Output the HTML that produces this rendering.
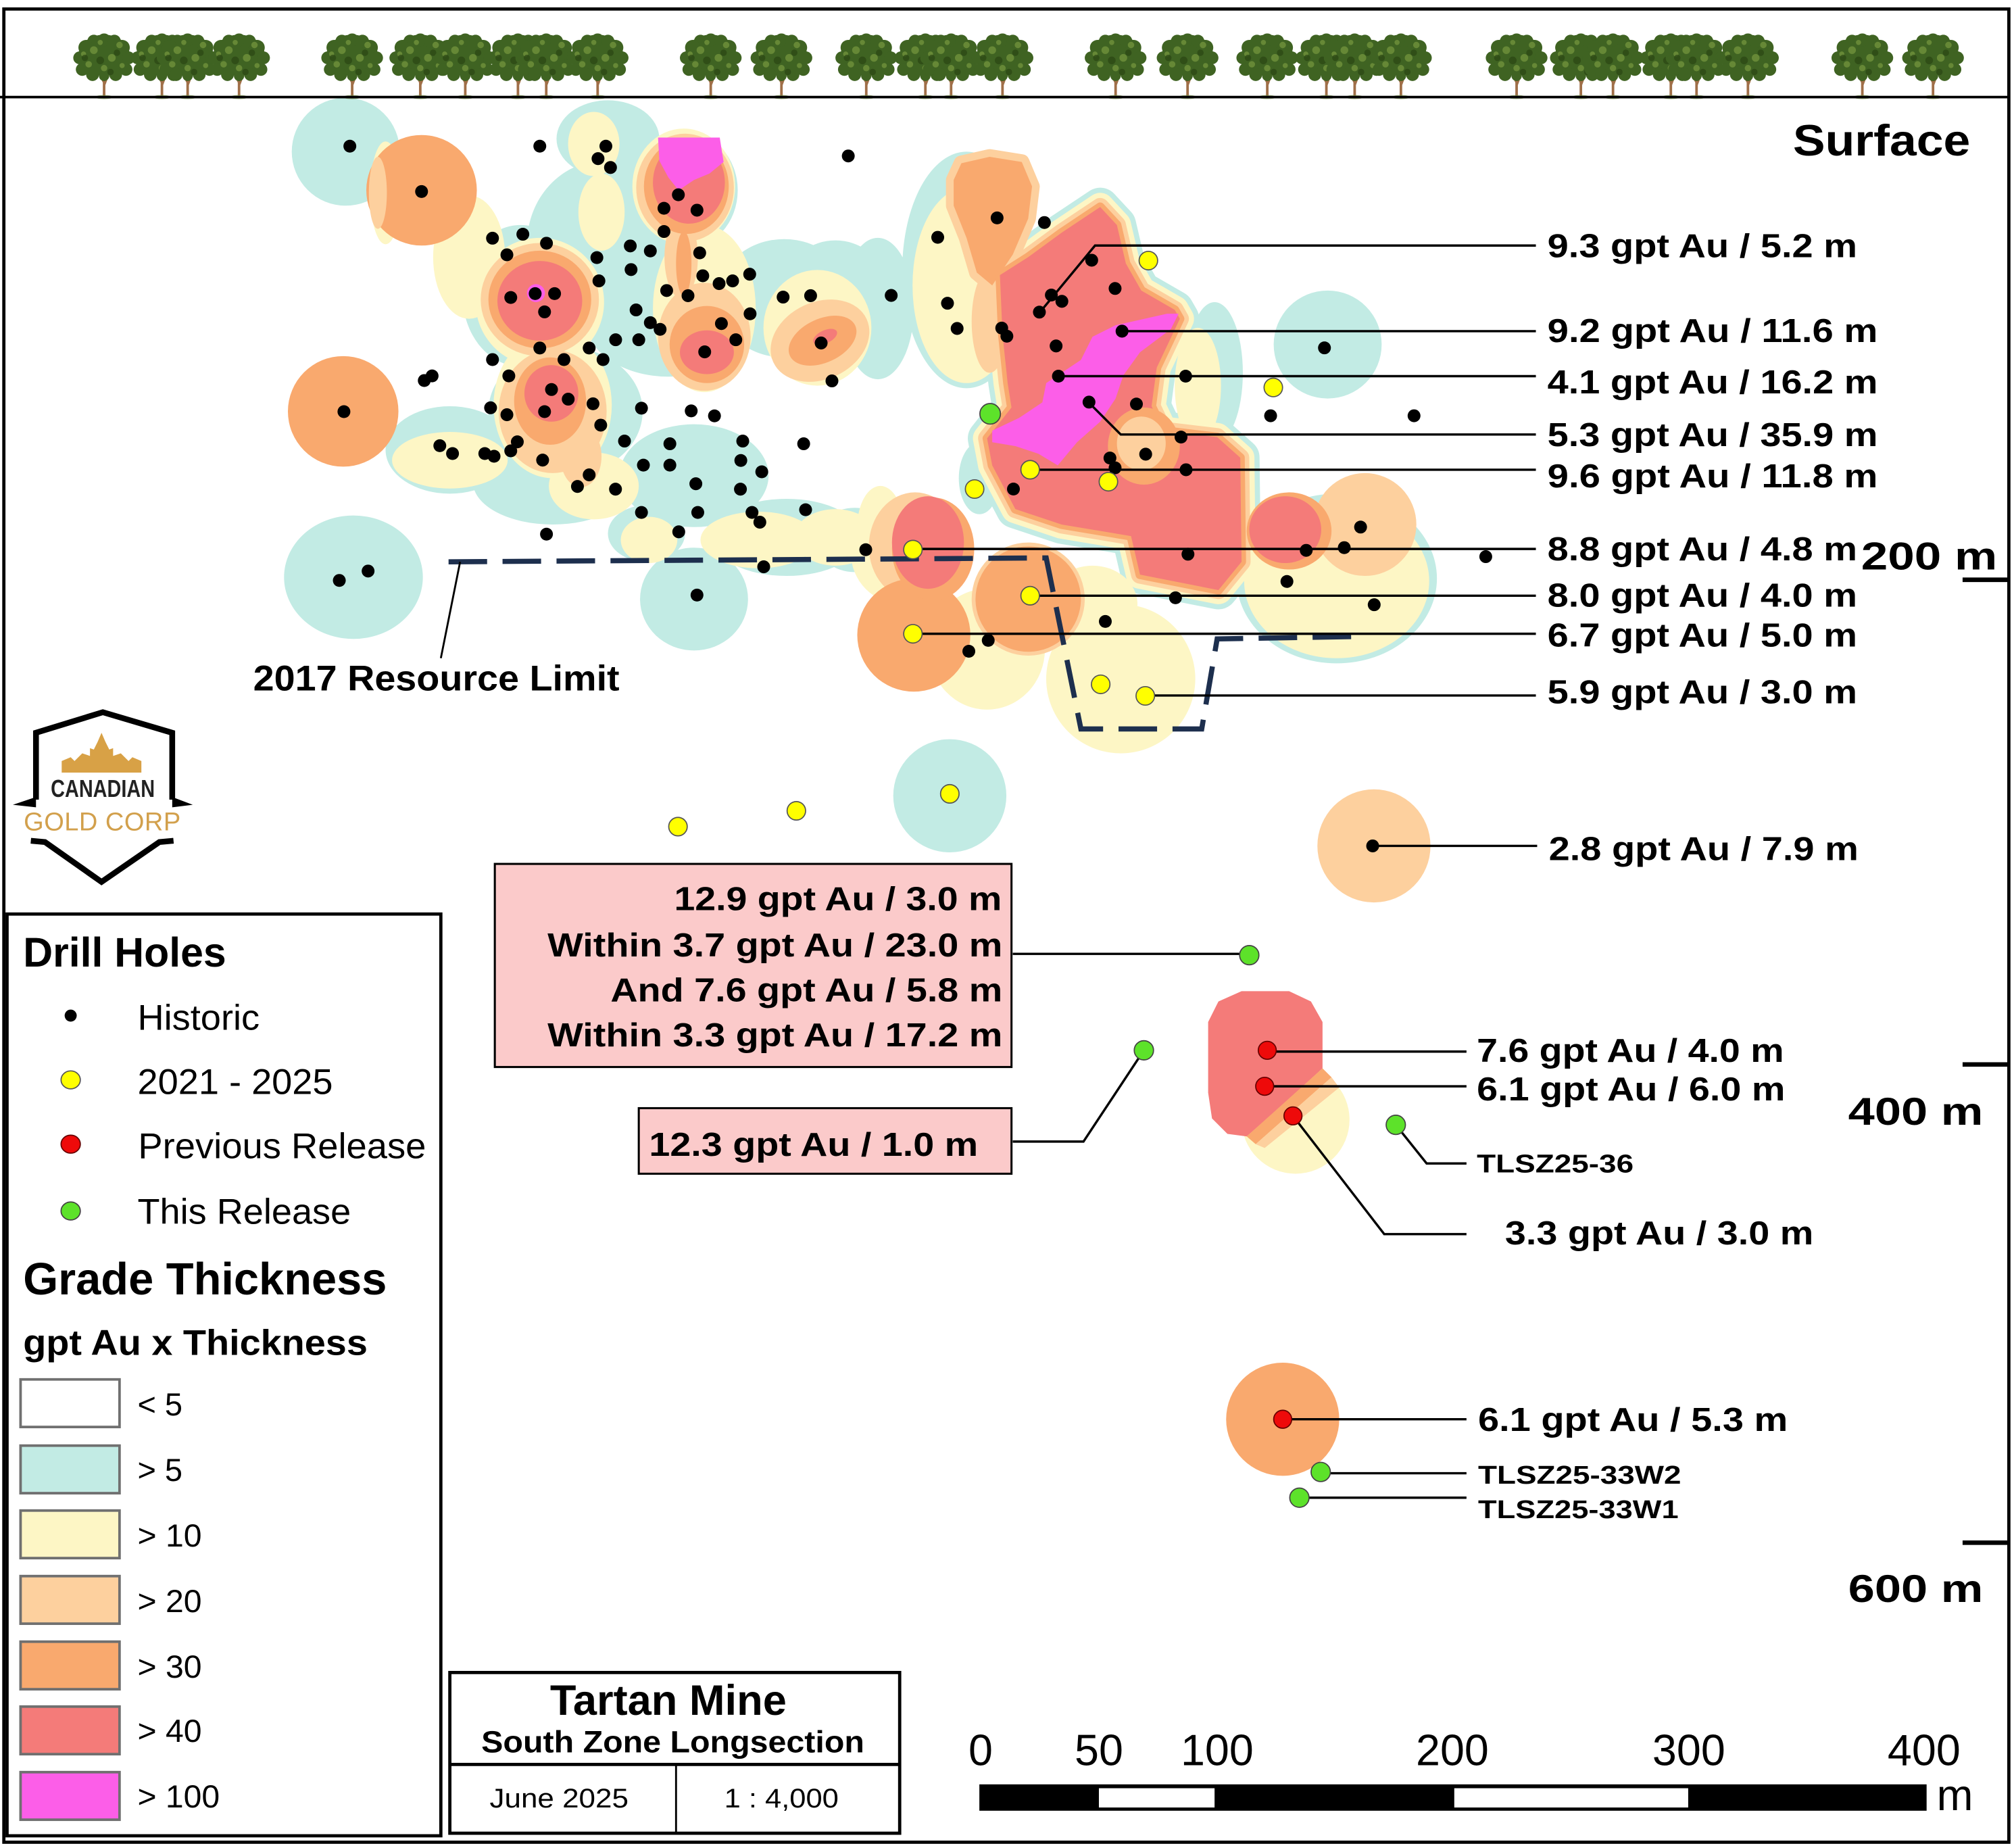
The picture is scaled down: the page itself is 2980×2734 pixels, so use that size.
<!DOCTYPE html>
<html><head><meta charset="utf-8"><style>html,body{margin:0;padding:0;background:#fff}svg{display:block}</style></head>
<body>
<svg xmlns="http://www.w3.org/2000/svg" xmlns:xlink="http://www.w3.org/1999/xlink" width="2980" height="2734" viewBox="0 0 1567 1437.5" preserveAspectRatio="none" font-family="'Liberation Sans', Arial, sans-serif">
<defs>
<path id="R" d="M778,214 L800,200 L826,181 L856,161 L869,175 L876,205 L888,226 L914,241 L918,248 L900,286 L896,316 L905,335 L947,340 L965,356 L966,437 L948,459 L887,447 L880,417 L826,408 L790,396 L772,362 L768,341 L787,317 L784,298 L780,260 Z"/>
<path id="OL" d="M742,140 L748,127 L770,122 L795,126 L803,145 L800,170 L788,198 L772,222 L760,212 L752,185 L742,160 Z"/>
<g id="tree">
 <path d="M0,0 L0,-20 M0,-11 L-4,-19 M0,-9 L3,-17" stroke="#a06f48" stroke-width="2" fill="none"/>
 <ellipse cx="0" cy="0.5" rx="7" ry="1.6" fill="#7d9a55" opacity=".7"/>
 <g fill="#3f6322">
  <ellipse cx="0" cy="-32" rx="20" ry="16"/>
  <circle cx="0" cy="-44" r="5"/><circle cx="-8" cy="-43" r="5"/><circle cx="8" cy="-43" r="5"/>
  <circle cx="-14" cy="-38" r="6"/><circle cx="14" cy="-38" r="6"/>
  <circle cx="-19" cy="-30" r="5"/><circle cx="19" cy="-30" r="5"/>
  <circle cx="-17" cy="-21" r="5"/><circle cx="17" cy="-21" r="5"/>
  <circle cx="-9" cy="-17" r="5"/><circle cx="9" cy="-17" r="5"/><circle cx="0" cy="-16" r="4"/>
 </g>
 <g fill="#6d8f3a" opacity=".85">
  <circle cx="-8" cy="-36" r="3"/><circle cx="6" cy="-30" r="3"/><circle cx="-12" cy="-25" r="2.5"/><circle cx="12" cy="-40" r="2.5"/><circle cx="0" cy="-22" r="2.5"/><circle cx="14" cy="-24" r="2"/><circle cx="-3" cy="-42" r="2"/><circle cx="-16" cy="-33" r="2"/>
 </g>
 <g fill="#2a4613" opacity=".7">
  <circle cx="-3" cy="-28" r="3"/><circle cx="10" cy="-34" r="2.5"/><circle cx="-15" cy="-30" r="2.5"/><circle cx="5" cy="-19" r="2.5"/>
 </g>
</g>
</defs>
<rect x="0" y="0" width="1567" height="1437.5" fill="#fff"/>

<!-- TEAL -->
<g fill="#c2ebe4">
 <circle cx="269" cy="118" r="42"/>
 <ellipse cx="275" cy="449" rx="54" ry="48"/>
 <ellipse cx="540" cy="466" rx="42" ry="40"/>
 <circle cx="1033" cy="268" r="42"/>
 <circle cx="739" cy="619" r="44"/>
 <ellipse cx="473" cy="108" rx="40" ry="30"/>
 <ellipse cx="470" cy="190" rx="60" ry="65"/>
 <ellipse cx="532" cy="148" rx="42" ry="46"/>
 <ellipse cx="405" cy="230" rx="45" ry="55"/>
 <ellipse cx="520" cy="248" rx="65" ry="45"/>
 <ellipse cx="610" cy="232" rx="52" ry="46"/>
 <ellipse cx="650" cy="215" rx="35" ry="28"/>
 <ellipse cx="683" cy="240" rx="28" ry="55"/>
 <ellipse cx="440" cy="320" rx="60" ry="50"/>
 <ellipse cx="350" cy="350" rx="50" ry="34"/>
 <ellipse cx="430" cy="375" rx="62" ry="33"/>
 <ellipse cx="540" cy="370" rx="58" ry="40"/>
 <ellipse cx="612" cy="418" rx="58" ry="30"/>
 <ellipse cx="665" cy="420" rx="30" ry="25"/>
 <ellipse cx="503" cy="415" rx="30" ry="22"/>
 <ellipse cx="752" cy="210" rx="50" ry="92"/>
 <ellipse cx="945" cy="290" rx="22" ry="55"/>
 <ellipse cx="762" cy="372" rx="16" ry="28"/>
 <ellipse cx="1040" cy="450" rx="78" ry="66"/>
 <use xlink:href="#R" stroke="#c2ebe4" stroke-width="30" stroke-linejoin="round"/>
</g>
<!-- YELLOW -->
<g fill="#fdf6c5">
 <ellipse cx="365" cy="200" rx="28" ry="48"/>
 <ellipse cx="420" cy="235" rx="50" ry="50"/>
 <ellipse cx="462" cy="112" rx="20" ry="25"/>
 <ellipse cx="468" cy="165" rx="18" ry="30"/>
 <ellipse cx="532" cy="145" rx="40" ry="45"/>
 <ellipse cx="548" cy="240" rx="40" ry="65"/>
 <ellipse cx="636" cy="255" rx="42" ry="45"/>
 <ellipse cx="430" cy="315" rx="46" ry="57"/>
 <ellipse cx="462" cy="378" rx="35" ry="26"/>
 <ellipse cx="350" cy="358" rx="45" ry="22"/>
 <ellipse cx="590" cy="420" rx="45" ry="22"/>
 <ellipse cx="650" cy="418" rx="32" ry="22"/>
 <ellipse cx="685" cy="410" rx="18" ry="32"/>
 <ellipse cx="505" cy="420" rx="22" ry="18"/>
 <ellipse cx="300" cy="150" rx="12" ry="40"/>
 <ellipse cx="752" cy="222" rx="42" ry="76"/>
 <ellipse cx="932" cy="300" rx="18" ry="45"/>
 <ellipse cx="1040" cy="452" rx="72" ry="60"/>
 <circle cx="702" cy="430" r="40"/>
 <ellipse cx="768" cy="505" rx="45" ry="47"/>
 <circle cx="872" cy="528" r="58"/>
 <ellipse cx="850" cy="470" rx="35" ry="30"/>
 <use xlink:href="#R" stroke="#fdf6c5" stroke-width="22" stroke-linejoin="round"/>
 <circle cx="1008" cy="871" r="42"/>
</g>
<!-- PEACH -->
<g fill="#fdd09e">
 <ellipse cx="420" cy="233" rx="46" ry="44"/>
 <ellipse cx="430" cy="320" rx="42" ry="48"/>
 <ellipse cx="452" cy="355" rx="16" ry="24"/>
 <ellipse cx="533" cy="146" rx="38" ry="42"/>
 <ellipse cx="530" cy="200" rx="13" ry="32"/>
 <ellipse cx="548" cy="262" rx="36" ry="42"/>
 <ellipse cx="638" cy="265" rx="40" ry="30" transform="rotate(-25 638 265)"/>
 <ellipse cx="770" cy="250" rx="14" ry="40"/>
 <use xlink:href="#OL" stroke="#fdd09e" stroke-width="12" stroke-linejoin="round"/>
 <use xlink:href="#R" stroke="#fdd09e" stroke-width="14" stroke-linejoin="round"/>
 <circle cx="1062" cy="408" r="40"/>
 <circle cx="800" cy="466" r="44"/>
 <ellipse cx="712" cy="425" rx="36" ry="42"/>
 <circle cx="1069" cy="658" r="44"/>
</g>
<!-- ORANGE -->
<g fill="#f9a96e">
 <circle cx="328" cy="148" r="43"/>
 <circle cx="267" cy="320" r="43"/>
 <ellipse cx="420" cy="233" rx="40" ry="38"/>
 <ellipse cx="428" cy="312" rx="28" ry="34"/>
 <ellipse cx="534" cy="145" rx="33" ry="37"/>
 <ellipse cx="532" cy="205" rx="6" ry="25"/>
 <ellipse cx="550" cy="268" rx="29" ry="30"/>
 <ellipse cx="640" cy="265" rx="28" ry="17" transform="rotate(-25 640 265)"/>
 <use xlink:href="#OL"/>
 <use xlink:href="#R" stroke="#f9a96e" stroke-width="7" stroke-linejoin="round"/>
 <circle cx="711" cy="494" r="44"/>
 <circle cx="800" cy="466" r="41"/>
 <ellipse cx="726" cy="427" rx="32" ry="40"/>
 <ellipse cx="1003" cy="413" rx="33" ry="30"/>
 <circle cx="998" cy="1104" r="44"/>
</g>
<ellipse cx="294" cy="150" rx="7" ry="28" fill="#fdd09e"/>
<!-- RED -->
<g fill="#f47b79">
 <ellipse cx="420" cy="234" rx="33" ry="31"/>
 <ellipse cx="429" cy="306" rx="21" ry="22"/>
 <ellipse cx="536" cy="142" rx="28" ry="32"/>
 <ellipse cx="550" cy="274" rx="21" ry="17"/>
 <ellipse cx="642" cy="262" rx="10" ry="5" transform="rotate(-25 642 262)"/>
 <use xlink:href="#R"/>
 <ellipse cx="722" cy="422" rx="28" ry="36"/>
 <ellipse cx="1000" cy="412" rx="28" ry="26"/>
 <path d="M940,795 L948,779 L966,771 L1003,771 L1020,779 L1029,795 L1029,831 L995,862 L970,884 L955,882 L943,870 L940,850 Z"/>
</g>
<ellipse cx="890" cy="347" rx="28" ry="30" fill="#f9a96e"/>
<ellipse cx="888" cy="345" rx="19" ry="21" fill="#fdd09e"/>
<polygon points="1029,831 1036,838 977,890 970,884" fill="#f9a96e"/>
<polygon points="1036,838 1042,846 984,893 977,890" fill="#fdd09e"/>
<!-- MAGENTA -->
<g fill="#fc5ee8">
 <circle cx="417" cy="228" r="7"/>
 <path d="M512,107 L560,107 L563,126 L552,135 L540,140 L528,148 L520,138 L513,125 Z"/>
 <path d="M772,335 L793,325 L811,313 L814,298 L841,280 L850,262 L868,253 L908,244 L917,244 L911,256 L887,274 L874,292 L868,310 L856,328 L838,344 L823,362 L808,353 L790,347 L772,344 Z"/>
</g>

<!-- resource limit -->
<path d="M349,437 L814,434 L841,567 L935,567 L947,497 L1062,495" fill="none" stroke="#1d2f4e" stroke-width="4" stroke-dasharray="30 12"/>
<line x1="343" y1="512" x2="358" y2="437" stroke="#000" stroke-width="1.5"/>

<!-- leader lines -->
<g stroke="#000" stroke-width="1.8" fill="none">
 <polyline points="809,243 852,191 1195,191"/>
 <line x1="873" y1="257.6" x2="1195" y2="257.6"/>
 <line x1="823.5" y1="292.6" x2="1195" y2="292.6"/>
 <polyline points="847,313 872,338 1195,338"/>
 <line x1="801.5" y1="365.4" x2="1195" y2="365.4"/>
 <line x1="710" y1="427" x2="1195" y2="427"/>
 <line x1="801.5" y1="463.4" x2="1195" y2="463.4"/>
 <line x1="710" y1="493" x2="1195" y2="493"/>
 <line x1="891" y1="541" x2="1195" y2="541"/>
 <line x1="1068" y1="658" x2="1196" y2="658"/>
 <line x1="986" y1="818" x2="1141" y2="818"/>
 <line x1="984" y1="845" x2="1141" y2="845"/>
 <polyline points="1086,875 1110,905 1141,905"/>
 <polyline points="1006,868 1077,960 1141,960"/>
 <line x1="998" y1="1104" x2="1141" y2="1104"/>
 <line x1="1028" y1="1146" x2="1141" y2="1146"/>
 <line x1="1011" y1="1165" x2="1141" y2="1165"/>
 <line x1="788" y1="742" x2="972" y2="742"/>
 <polyline points="788,888 843,888 890,817"/>
</g>

<!-- black dots -->
<g fill="#000">
<circle cx="272.2" cy="113.7" r="5"/><circle cx="328" cy="149" r="5"/><circle cx="420" cy="113.7" r="5"/><circle cx="471.4" cy="113.7" r="5"/><circle cx="465.3" cy="123.4" r="5"/><circle cx="475" cy="130.3" r="5"/><circle cx="660" cy="121.3" r="5"/><circle cx="527.8" cy="151.5" r="5"/><circle cx="516.6" cy="162" r="5"/><circle cx="542.3" cy="163.5" r="5"/><circle cx="516.6" cy="180.1" r="5"/><circle cx="383.2" cy="185.3" r="5"/><circle cx="406.8" cy="182.2" r="5"/><circle cx="425.2" cy="189.2" r="5"/><circle cx="394.4" cy="198.2" r="5"/><circle cx="490.4" cy="191.3" r="5"/><circle cx="506" cy="195.2" r="5"/><circle cx="544.4" cy="196.7" r="5"/><circle cx="464.4" cy="200.4" r="5"/><circle cx="491" cy="209.7" r="5"/><circle cx="546.8" cy="214.5" r="5"/><circle cx="559.5" cy="220.6" r="5"/><circle cx="570" cy="218.5" r="5"/><circle cx="583.3" cy="213.3" r="5"/><circle cx="466" cy="218.5" r="5"/><circle cx="518.7" cy="226" r="5"/><circle cx="535.3" cy="230" r="5"/><circle cx="609.3" cy="231.1" r="5"/><circle cx="630.7" cy="230" r="5"/><circle cx="397.4" cy="231.4" r="5"/><circle cx="416.4" cy="228.4" r="5"/><circle cx="431.5" cy="228.4" r="5"/><circle cx="423.7" cy="242.6" r="5"/><circle cx="494.9" cy="241.1" r="5"/><circle cx="583.6" cy="244.1" r="5"/><circle cx="506" cy="251" r="5"/><circle cx="513.6" cy="256.2" r="5"/><circle cx="561.3" cy="251.7" r="5"/><circle cx="479" cy="264.3" r="5"/><circle cx="497" cy="264.3" r="5"/><circle cx="572.5" cy="264.3" r="5"/><circle cx="548.3" cy="273.7" r="5"/><circle cx="638.9" cy="266.8" r="5"/><circle cx="420" cy="270.7" r="5"/><circle cx="458.4" cy="270.7" r="5"/><circle cx="383.2" cy="279.7" r="5"/><circle cx="438.8" cy="279.7" r="5"/><circle cx="469.2" cy="279.7" r="5"/><circle cx="336.2" cy="292.4" r="5"/><circle cx="330.1" cy="296" r="5"/><circle cx="647.3" cy="296.3" r="5"/><circle cx="395.9" cy="292.4" r="5"/><circle cx="429.1" cy="303" r="5"/><circle cx="442.1" cy="310.5" r="5"/><circle cx="461.4" cy="314.1" r="5"/><circle cx="423.7" cy="320.2" r="5"/><circle cx="381.7" cy="317.2" r="5"/><circle cx="394.4" cy="322.6" r="5"/><circle cx="467.4" cy="330.7" r="5"/><circle cx="499.1" cy="317.5" r="5"/><circle cx="537.8" cy="319.6" r="5"/><circle cx="555.9" cy="323.5" r="5"/><circle cx="267.6" cy="320.2" r="5"/><circle cx="342.2" cy="346.7" r="5"/><circle cx="352.1" cy="352.8" r="5"/><circle cx="377.2" cy="352.8" r="5"/><circle cx="384.4" cy="354.9" r="5"/><circle cx="397.4" cy="350.7" r="5"/><circle cx="402.5" cy="343.7" r="5"/><circle cx="422.2" cy="357.9" r="5"/><circle cx="485.9" cy="343.1" r="5"/><circle cx="521.2" cy="345.2" r="5"/><circle cx="577.9" cy="343.1" r="5"/><circle cx="625.3" cy="345.2" r="5"/><circle cx="500.6" cy="361.8" r="5"/><circle cx="521.2" cy="361.8" r="5"/><circle cx="576.4" cy="358.2" r="5"/><circle cx="592.7" cy="367" r="5"/><circle cx="458.4" cy="369.4" r="5"/><circle cx="449.3" cy="378.4" r="5"/><circle cx="478.9" cy="380.5" r="5"/><circle cx="541.4" cy="376.3" r="5"/><circle cx="576.1" cy="380.5" r="5"/><circle cx="499.1" cy="398.6" r="5"/><circle cx="542.9" cy="398.6" r="5"/><circle cx="585.1" cy="398.6" r="5"/><circle cx="591.2" cy="406.2" r="5"/><circle cx="626.8" cy="396.5" r="5"/><circle cx="425.2" cy="415.5" r="5"/><circle cx="528.1" cy="413.7" r="5"/><circle cx="673.6" cy="427.6" r="5"/><circle cx="594.2" cy="440.9" r="5"/><circle cx="542.3" cy="462.9" r="5"/><circle cx="264" cy="451.5" r="5"/><circle cx="286.4" cy="444.2" r="5"/>
<circle cx="775.8" cy="169.5" r="5"/><circle cx="812.6" cy="173.1" r="5"/><circle cx="729.6" cy="184.6" r="5"/><circle cx="693.4" cy="229.8" r="5"/><circle cx="737.2" cy="235.9" r="5"/><circle cx="744.7" cy="255.5" r="5"/><circle cx="779.4" cy="255.2" r="5"/><circle cx="783.4" cy="261.5" r="5"/><circle cx="849.4" cy="202.4" r="5"/><circle cx="867.6" cy="224.4" r="5"/><circle cx="818" cy="229.5" r="5"/><circle cx="826.2" cy="234.4" r="5"/><circle cx="808.7" cy="242.8" r="5"/><circle cx="873" cy="257.6" r="5"/><circle cx="821.7" cy="269.1" r="5"/><circle cx="823.5" cy="292.6" r="5"/><circle cx="922.5" cy="292.6" r="5"/><circle cx="1030.5" cy="270.6" r="5"/><circle cx="847.3" cy="312.8" r="5"/><circle cx="884.2" cy="314.3" r="5"/><circle cx="988.6" cy="323.4" r="5"/><circle cx="1100.2" cy="323.4" r="5"/><circle cx="918.9" cy="340" r="5"/><circle cx="891.4" cy="353.3" r="5"/><circle cx="863.6" cy="356.3" r="5"/><circle cx="867.6" cy="363.9" r="5"/><circle cx="922.8" cy="365.4" r="5"/><circle cx="788.5" cy="380.4" r="5"/><circle cx="1058.6" cy="410" r="5"/><circle cx="1045.9" cy="426" r="5"/><circle cx="1016.3" cy="428.1" r="5"/><circle cx="924.3" cy="431.1" r="5"/><circle cx="1001.3" cy="452.3" r="5"/><circle cx="914.6" cy="465" r="5"/><circle cx="1069.2" cy="470.4" r="5"/><circle cx="860" cy="483.4" r="5"/><circle cx="768.9" cy="498.1" r="5"/><circle cx="753.8" cy="506.6" r="5"/><circle cx="1156" cy="433" r="5"/><circle cx="1068" cy="658" r="5"/>
</g>
<!-- yellow dots -->
<g fill="#ffff00" stroke="#555" stroke-width="0.9">
<circle cx="893.5" cy="202.7" r="7.2"/><circle cx="990.7" cy="301.4" r="7.2"/><circle cx="801.5" cy="365.4" r="7.2"/><circle cx="862.4" cy="374.7" r="7.2"/><circle cx="758.3" cy="380.4" r="7.2"/><circle cx="710.3" cy="427.5" r="7.2"/><circle cx="801.5" cy="463.4" r="7.2"/><circle cx="710.3" cy="493" r="7.2"/><circle cx="856.4" cy="532.3" r="7.2"/><circle cx="891.1" cy="541.3" r="7.2"/><circle cx="527.5" cy="643" r="7.2"/><circle cx="619.6" cy="630.7" r="7.2"/><circle cx="739" cy="617.5" r="7.2"/>
</g>
<!-- green dots -->
<g fill="#5de22a" stroke="#444" stroke-width="0.9">
<circle cx="770.4" cy="321.9" r="8"/><circle cx="972" cy="743" r="7.5"/><circle cx="890" cy="817" r="7.5"/><circle cx="1086" cy="875" r="7.5"/><circle cx="1027.6" cy="1145" r="7.5"/><circle cx="1011" cy="1165" r="7.5"/>
</g>
<!-- red dots -->
<g fill="#ee0a0a" stroke="#600" stroke-width="0.9">
<circle cx="986" cy="817" r="7"/><circle cx="984" cy="845" r="7"/><circle cx="1006" cy="868" r="7"/><circle cx="998" cy="1104" r="7"/>
</g>

<!-- labels right -->
<g font-weight="bold" font-size="26" fill="#000">
<text x="1204" y="200" textLength="241" lengthAdjust="spacingAndGlyphs">9.3 gpt Au / 5.2 m</text>
<text x="1204" y="266" textLength="257" lengthAdjust="spacingAndGlyphs">9.2 gpt Au / 11.6 m</text>
<text x="1204" y="306" textLength="257" lengthAdjust="spacingAndGlyphs">4.1 gpt Au / 16.2 m</text>
<text x="1204" y="347" textLength="257" lengthAdjust="spacingAndGlyphs">5.3 gpt Au / 35.9 m</text>
<text x="1204" y="379" textLength="257" lengthAdjust="spacingAndGlyphs">9.6 gpt Au / 11.8 m</text>
<text x="1204" y="436" textLength="241" lengthAdjust="spacingAndGlyphs">8.8 gpt Au / 4.8 m</text>
<text x="1204" y="472" textLength="241" lengthAdjust="spacingAndGlyphs">8.0 gpt Au / 4.0 m</text>
<text x="1204" y="503" textLength="241" lengthAdjust="spacingAndGlyphs">6.7 gpt Au / 5.0 m</text>
<text x="1204" y="547" textLength="241" lengthAdjust="spacingAndGlyphs">5.9 gpt Au / 3.0 m</text>
<text x="1205" y="669" textLength="241" lengthAdjust="spacingAndGlyphs">2.8 gpt Au / 7.9 m</text>
<text x="1149" y="826" textLength="239" lengthAdjust="spacingAndGlyphs">7.6 gpt Au / 4.0 m</text>
<text x="1149" y="856" textLength="240" lengthAdjust="spacingAndGlyphs">6.1 gpt Au / 6.0 m</text>
<text x="1171" y="968" textLength="240" lengthAdjust="spacingAndGlyphs">3.3 gpt Au / 3.0 m</text>
<text x="1150" y="1113" textLength="241" lengthAdjust="spacingAndGlyphs">6.1 gpt Au / 5.3 m</text>
<text x="1149" y="912" font-size="20" textLength="122" lengthAdjust="spacingAndGlyphs">TLSZ25-36</text>
<text x="1150" y="1154" font-size="20" textLength="158" lengthAdjust="spacingAndGlyphs">TLSZ25-33W2</text>
<text x="1150" y="1181" font-size="20" textLength="156" lengthAdjust="spacingAndGlyphs">TLSZ25-33W1</text>
<text x="1395" y="121" font-size="34" textLength="138" lengthAdjust="spacingAndGlyphs">Surface</text>
<text x="1448" y="443" font-size="30" textLength="106" lengthAdjust="spacingAndGlyphs">200 m</text>
<text x="1438" y="875" font-size="30" textLength="105" lengthAdjust="spacingAndGlyphs">400 m</text>
<text x="1438" y="1246" font-size="30" textLength="105" lengthAdjust="spacingAndGlyphs">600 m</text>
<text x="197" y="537" font-size="28" textLength="285" lengthAdjust="spacingAndGlyphs">2017 Resource Limit</text>
</g>
<g stroke="#000" stroke-width="3.5">
<line x1="1527" y1="451" x2="1564" y2="451"/>
<line x1="1527" y1="828" x2="1564" y2="828"/>
<line x1="1527" y1="1200" x2="1564" y2="1200"/>
</g>

<!-- pink boxes -->
<rect x="385" y="672" width="402" height="158" fill="#fbcaca" stroke="#000" stroke-width="1.6"/>
<rect x="497" y="862" width="290" height="51" fill="#fbcaca" stroke="#000" stroke-width="1.6"/>
<g font-weight="bold" font-size="26" fill="#000">
<text x="524.5" y="708" textLength="255" lengthAdjust="spacingAndGlyphs">12.9 gpt Au / 3.0 m</text>
<text x="426" y="744" textLength="354" lengthAdjust="spacingAndGlyphs">Within 3.7 gpt Au / 23.0 m</text>
<text x="475" y="779" textLength="305" lengthAdjust="spacingAndGlyphs">And 7.6 gpt Au / 5.8 m</text>
<text x="426" y="814" textLength="354" lengthAdjust="spacingAndGlyphs">Within 3.3 gpt Au / 17.2 m</text>
<text x="505" y="899" textLength="256" lengthAdjust="spacingAndGlyphs">12.3 gpt Au / 1.0 m</text>
</g>

<!-- trees -->
<g>
<use xlink:href="#tree" x="81" y="75"/><use xlink:href="#tree" x="126" y="75"/><use xlink:href="#tree" x="146" y="75"/><use xlink:href="#tree" x="186" y="75"/>
<use xlink:href="#tree" x="274" y="75"/><use xlink:href="#tree" x="327" y="75"/><use xlink:href="#tree" x="362" y="75"/><use xlink:href="#tree" x="403" y="75"/><use xlink:href="#tree" x="425" y="75"/><use xlink:href="#tree" x="465" y="75"/>
<use xlink:href="#tree" x="553" y="75"/><use xlink:href="#tree" x="608" y="75"/>
<use xlink:href="#tree" x="674" y="75"/><use xlink:href="#tree" x="720" y="75"/><use xlink:href="#tree" x="740" y="75"/><use xlink:href="#tree" x="780" y="75"/>
<use xlink:href="#tree" x="868" y="75"/><use xlink:href="#tree" x="924" y="75"/>
<use xlink:href="#tree" x="986" y="75"/><use xlink:href="#tree" x="1032" y="75"/><use xlink:href="#tree" x="1054" y="75"/><use xlink:href="#tree" x="1090" y="75"/>
<use xlink:href="#tree" x="1180" y="75"/><use xlink:href="#tree" x="1230" y="75"/><use xlink:href="#tree" x="1255" y="75"/><use xlink:href="#tree" x="1300" y="75"/><use xlink:href="#tree" x="1320" y="75"/><use xlink:href="#tree" x="1360" y="75"/>
<use xlink:href="#tree" x="1449" y="75"/><use xlink:href="#tree" x="1504" y="75"/>
</g>
<line x1="0" y1="75.5" x2="1562" y2="75.5" stroke="#000" stroke-width="2"/>

<!-- frame -->
<rect x="3" y="7" width="1560" height="1426" fill="none" stroke="#000" stroke-width="2.5"/>

<!-- logo -->
<g>
 <path d="M28,622 L28,570 L80,554 L134,570 L134,622" fill="none" stroke="#000" stroke-width="4.5" stroke-linejoin="miter"/>
 <path d="M10,626 L28,620 L28,628 Z M150,626 L134,620 L134,628 Z" fill="#000"/>
 <path d="M24,654 L35,655 L79,686 L124,655 L135,654" fill="none" stroke="#000" stroke-width="4.5"/>
 <path d="M48,601 L48,592 L55,589 L58,592 L64,586 L70,588 L70,582 L73,583 L76,577 L79,570 L82,577 L85,583 L88,582 L88,588 L94,586 L100,592 L103,589 L110,592 L110,601 Z" fill="#d8a146"/>
 <text x="39.5" y="620" font-size="19" font-weight="bold" fill="#222" textLength="81" lengthAdjust="spacingAndGlyphs">CANADIAN</text>
 <text x="18.5" y="646" font-size="20" fill="#d2a04c" textLength="122" lengthAdjust="spacing">GOLD CORP</text>
</g>

<!-- legend -->
<rect x="5.5" y="711" width="337.5" height="717" fill="#fff" stroke="#000" stroke-width="2.5"/>
<g fill="#000">
 <text x="18" y="752" font-size="32" font-weight="bold" textLength="158" lengthAdjust="spacingAndGlyphs">Drill Holes</text>
 <circle cx="55" cy="790" r="4.7"/>
 <text x="107" y="801" font-size="28" textLength="95" lengthAdjust="spacingAndGlyphs">Historic</text>
 <text x="107" y="851" font-size="28" textLength="152" lengthAdjust="spacingAndGlyphs">2021 - 2025</text>
 <text x="107.5" y="901" font-size="28" textLength="224" lengthAdjust="spacingAndGlyphs">Previous Release</text>
 <text x="107" y="952" font-size="28" textLength="166" lengthAdjust="spacingAndGlyphs">This Release</text>
 <text x="18" y="1007" font-size="35" font-weight="bold" textLength="283" lengthAdjust="spacingAndGlyphs">Grade Thickness</text>
 <text x="18" y="1054" font-size="28" font-weight="bold" textLength="268" lengthAdjust="spacingAndGlyphs">gpt Au x Thickness</text>
</g>
<ellipse cx="55" cy="840" rx="7.5" ry="7" fill="#ffff00" stroke="#555" stroke-width="0.9"/>
<ellipse cx="55" cy="890" rx="7.5" ry="7" fill="#ee0a0a" stroke="#600" stroke-width="0.9"/>
<ellipse cx="55" cy="942" rx="7.5" ry="7" fill="#5de22a" stroke="#444" stroke-width="0.9"/>
<g stroke="#707070" stroke-width="2">
 <rect x="16" y="1073" width="77" height="37" fill="#fff"/>
 <rect x="16" y="1124.5" width="77" height="37" fill="#c2ebe4"/>
 <rect x="16" y="1175" width="77" height="37" fill="#fdf6c5"/>
 <rect x="16" y="1226" width="77" height="37" fill="#fdd09e"/>
 <rect x="16" y="1277" width="77" height="37" fill="#f9a96e"/>
 <rect x="16" y="1327.5" width="77" height="37" fill="#f47b79"/>
 <rect x="16" y="1378.5" width="77" height="37" fill="#fc5ee8"/>
</g>
<g font-size="25" fill="#000">
 <text x="107" y="1101" textLength="35" lengthAdjust="spacingAndGlyphs">&lt; 5</text>
 <text x="107" y="1152" textLength="35" lengthAdjust="spacingAndGlyphs">&gt; 5</text>
 <text x="107" y="1203" textLength="50" lengthAdjust="spacingAndGlyphs">&gt; 10</text>
 <text x="107" y="1254" textLength="50" lengthAdjust="spacingAndGlyphs">&gt; 20</text>
 <text x="107" y="1305" textLength="50" lengthAdjust="spacingAndGlyphs">&gt; 30</text>
 <text x="107" y="1355" textLength="50" lengthAdjust="spacingAndGlyphs">&gt; 40</text>
 <text x="107" y="1406" textLength="64" lengthAdjust="spacingAndGlyphs">&gt; 100</text>
</g>

<!-- title block -->
<rect x="350" y="1301" width="350" height="125" fill="#fff" stroke="#000" stroke-width="2.5"/>
<line x1="350" y1="1372.5" x2="700" y2="1372.5" stroke="#000" stroke-width="2.5"/>
<line x1="526" y1="1372.5" x2="526" y2="1426" stroke="#000" stroke-width="1.5"/>
<g fill="#000" text-anchor="middle">
 <text x="520" y="1334" font-size="33" font-weight="bold" textLength="184" lengthAdjust="spacingAndGlyphs">Tartan Mine</text>
 <text x="523.5" y="1363" font-size="24" font-weight="bold" textLength="298" lengthAdjust="spacingAndGlyphs">South Zone Longsection</text>
 <text x="435" y="1406" font-size="21" textLength="108" lengthAdjust="spacingAndGlyphs">June 2025</text>
 <text x="608" y="1406" font-size="21" textLength="89" lengthAdjust="spacingAndGlyphs">1 : 4,000</text>
</g>

<!-- scale bar -->
<g fill="#000" font-size="34" text-anchor="middle">
 <text x="763" y="1373">0</text>
 <text x="855" y="1373">50</text>
 <text x="947" y="1373">100</text>
 <text x="1130" y="1373">200</text>
 <text x="1314" y="1373">300</text>
 <text x="1497" y="1373">400</text>
 <text x="1521" y="1408">m</text>
</g>
<rect x="762" y="1388" width="737" height="20.5" fill="#000"/>
<rect x="855" y="1391" width="90" height="15" fill="#fff"/>
<rect x="1131.5" y="1391" width="182" height="15" fill="#fff"/>
</svg>
</body></html>
